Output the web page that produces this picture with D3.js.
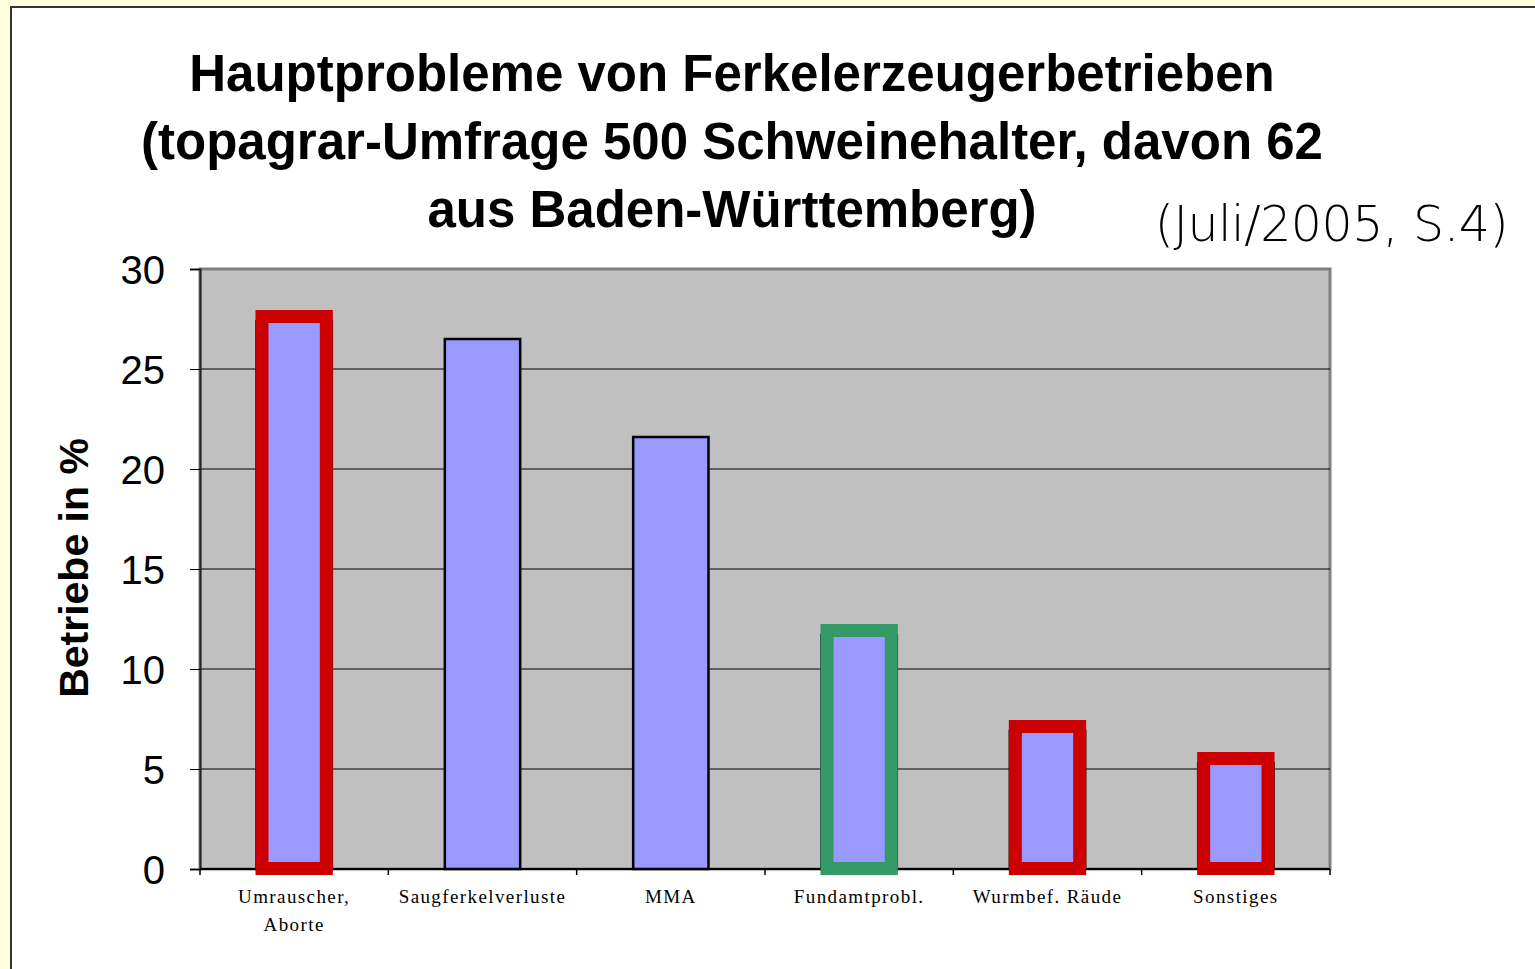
<!DOCTYPE html>
<html>
<head>
<meta charset="utf-8">
<script src="https://cdn.jsdelivr.net/npm/d3@7"></script>
<style>
  body { margin: 0; background: #ffffdc; }
  #chart { position: absolute; left: 0; top: 0; }
</style>
</head>
<body>
<div id="chart"></div>
<script>
// Data
const categories = ["Umrauscher, Aborte", "Saugferkelverluste", "MMA", "Fundamtprobl.", "Wurmbef. Räude", "Sonstiges"];
const values = [27.4, 26.5, 21.6, 11.7, 6.9, 5.3];
const yTicks = [0, 5, 10, 15, 20, 25, 30];
// highlighted bars (hand-drawn frames in the original)
const frames = [
    { cat: "Umrauscher, Aborte", color: "#cc0000" },
    { cat: "Fundamtprobl.", color: "#339966" },
    { cat: "Wurmbef. Räude", color: "#cc0000" },
    { cat: "Sonstiges", color: "#cc0000" }
];

const width = 1535, height = 969;
const plot = { left: 200, right: 1330, top: 269, bottom: 869 };

const svg = d3.select("#chart")
    .append("svg")
    .attr("width", width)
    .attr("height", height);

// white slide panel
svg.append("rect")
    .attr("x", 11).attr("y", 7)
    .attr("width", width).attr("height", height)
    .attr("fill", "#fff")
    .attr("stroke", "#333")
    .attr("stroke-width", 2);

// Title
const titleLines = [
    "Hauptprobleme von Ferkelerzeugerbetrieben",
    "(topagrar-Umfrage 500 Schweinehalter, davon 62",
    "aus Baden-Württemberg)"
];
svg.append("g").selectAll("text")
    .data(titleLines)
    .enter()
    .append("text")
    .attr("x", 732)
    .attr("y", (d, i) => 91 + i * 68)
    .attr("text-anchor", "middle")
    .attr("font-family", "Liberation Sans, Arial, sans-serif")
    .attr("font-weight", "bold")
    .attr("font-size", 51)
    .text(d => d);

svg.append("text")
    .attr("x", 1508)
    .attr("y", 241)
    .attr("text-anchor", "end")
    .attr("font-family", "DejaVu Sans, sans-serif")
    .attr("font-weight", 200)
    .attr("font-size", 49)
    .attr("letter-spacing", -0.5)
    .text("(Juli/2005, S.4)");

// Scales
const xScale = d3.scaleBand()
    .domain(categories)
    .range([plot.left, plot.right])
    .paddingInner(0.6)
    .paddingOuter(0.3);

const yScale = d3.scaleLinear()
    .domain([0, 30])
    .range([plot.bottom, plot.top]);

// plot background
svg.append("rect")
    .attr("x", plot.left).attr("y", plot.top)
    .attr("width", plot.right - plot.left)
    .attr("height", plot.bottom - plot.top)
    .attr("fill", "#c0c0c0")
    .attr("stroke", "#808080")
    .attr("stroke-width", 3);

// gridlines
svg.append("g").selectAll("line")
    .data(yTicks.filter(d => d > 0 && d < 30))
    .enter()
    .append("line")
    .attr("x1", plot.left).attr("x2", plot.right)
    .attr("y1", d => yScale(d)).attr("y2", d => yScale(d))
    .attr("stroke", "#000")
    .attr("stroke-width", 1);

// Axes
const yAxis = svg.append("g")
    .attr("transform", `translate(${plot.left},0)`)
    .call(d3.axisLeft(yScale).tickValues(yTicks).tickSize(10).tickPadding(25));
yAxis.selectAll("text")
    .attr("font-family", "Liberation Sans, Arial, sans-serif")
    .attr("font-size", 40)
    .attr("fill", "#000")
    .attr("dy", "0.36em");
yAxis.select(".domain").attr("stroke", "#222").attr("stroke-width", 2);

// category ticks at band boundaries
const step = xScale.step();
const boundaries = d3.range(categories.length + 1).map(i => plot.left + i * step);
svg.append("line")
    .attr("x1", plot.left).attr("x2", plot.right)
    .attr("y1", plot.bottom).attr("y2", plot.bottom)
    .attr("stroke", "#000").attr("stroke-width", 2);
svg.append("g").selectAll("line")
    .data(boundaries)
    .enter()
    .append("line")
    .attr("x1", d => d).attr("x2", d => d)
    .attr("y1", plot.bottom).attr("y2", plot.bottom + 6)
    .attr("stroke", "#000").attr("stroke-width", 1.5);

// x labels
const xLabels = svg.append("g").selectAll("text")
    .data(categories)
    .enter()
    .append("text")
    .attr("x", d => xScale(d) + xScale.bandwidth() / 2)
    .attr("y", 903)
    .attr("text-anchor", "middle")
    .attr("font-family", "Liberation Serif, Times New Roman, serif")
    .attr("font-size", 19)
    .attr("letter-spacing", 1.4);
xLabels.each(function(d) {
    const parts = d === "Umrauscher, Aborte" ? ["Umrauscher,", "Aborte"] : [d];
    const t = d3.select(this);
    parts.forEach((p, i) => {
        t.append("tspan")
            .attr("x", xScale(d) + xScale.bandwidth() / 2)
            .attr("dy", i === 0 ? 0 : 28)
            .text(p);
    });
});

// y label
svg.append("text")
    .attr("transform", "translate(88,568) rotate(-90)")
    .attr("text-anchor", "middle")
    .attr("font-family", "Liberation Sans, Arial, sans-serif")
    .attr("font-weight", "bold")
    .attr("font-size", 41)
    .text("Betriebe in %");

// Bars
svg.append("g").selectAll("rect")
    .data(categories)
    .enter()
    .append("rect")
    .attr("x", d => xScale(d))
    .attr("y", (d, i) => yScale(values[i]))
    .attr("width", xScale.bandwidth())
    .attr("height", (d, i) => yScale(0) - yScale(values[i]))
    .attr("fill", "#9999ff")
    .attr("stroke", "#000")
    .attr("stroke-width", 2.5);

// highlight frames
const sw = 13;
const frameTop = d => yScale(values[categories.indexOf(d.cat)]) - 11;
svg.append("g").selectAll("rect")
    .data(frames)
    .enter()
    .append("rect")
    .attr("x", d => xScale(d.cat) - 1 + sw / 2)
    .attr("y", d => frameTop(d) + sw / 2)
    .attr("width", xScale.bandwidth() + 2 - sw)
    .attr("height", d => yScale(0) + 6 - frameTop(d) - sw)
    .attr("fill", "none")
    .attr("stroke", d => d.color)
    .attr("stroke-width", sw);
</script>
</body>
</html>
